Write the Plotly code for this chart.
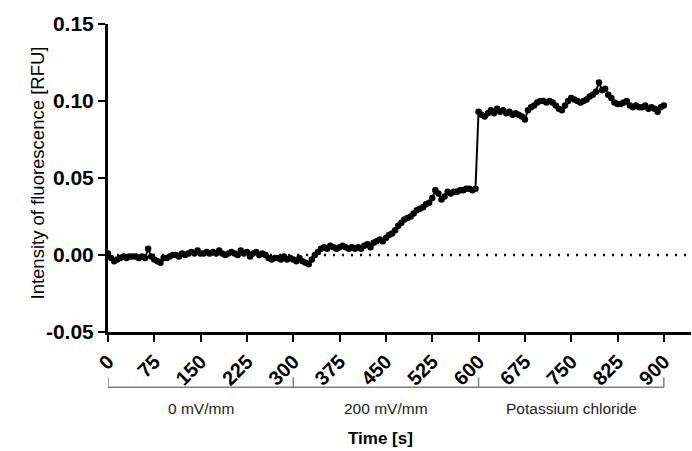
import plotly.graph_objects as go

time_s = list(range(0, 901, 5))
intensity = [
    0.001, -0.002, -0.004, -0.003, -0.002, -0.001, -0.002, -0.001, -0.001, -0.001,
    -0.002, -0.001, -0.002, 0.004, -0.001, -0.003, -0.004, -0.005, -0.002, -0.002,
    -0.001, 0.000, 0.000, -0.001, 0.001, 0.000, 0.001, 0.002, 0.001, 0.003,
    0.001, 0.001, 0.002, 0.001, 0.002, 0.001, 0.003, 0.001, 0.000, 0.001,
    0.002, 0.001, 0.000, 0.003, 0.001, 0.002, -0.001, 0.001, 0.002, 0.000,
    0.001, 0.000, -0.002, -0.003, -0.002, -0.002, -0.003, -0.001, -0.003, -0.002,
    -0.003, -0.004, -0.002, -0.004, -0.005, -0.006, -0.003, 0.000, 0.002, 0.004,
    0.005, 0.004, 0.006, 0.005, 0.004, 0.005, 0.006, 0.005, 0.004, 0.005,
    0.004, 0.005, 0.004, 0.006, 0.007, 0.005, 0.008, 0.009, 0.010, 0.009,
    0.011, 0.013, 0.014, 0.016, 0.019, 0.021, 0.023, 0.024, 0.025, 0.027,
    0.029, 0.030, 0.031, 0.033, 0.034, 0.037, 0.042, 0.040, 0.036, 0.038,
    0.041, 0.040, 0.041, 0.041, 0.042, 0.042, 0.043, 0.043, 0.042, 0.043,
    0.093, 0.091, 0.090, 0.092, 0.094, 0.092, 0.095, 0.093, 0.094, 0.092,
    0.093, 0.091, 0.092, 0.091, 0.090, 0.088, 0.094, 0.096, 0.097, 0.099,
    0.100, 0.100, 0.099, 0.100, 0.099, 0.097, 0.095, 0.094, 0.097, 0.100,
    0.102, 0.101, 0.100, 0.099, 0.100, 0.101, 0.103, 0.104, 0.106, 0.112,
    0.107, 0.108, 0.104, 0.102, 0.099, 0.098, 0.098, 0.099, 0.100, 0.097,
    0.096, 0.097, 0.096, 0.096, 0.097, 0.095, 0.096, 0.095, 0.093, 0.096,
    0.097,
]
x_ticks = list(range(0, 901, 75))
y_ticks = [-0.05, 0.00, 0.05, 0.10, 0.15]
phase_bounds = [0, 300, 600, 900]
phase_labels = ["0 mV/mm", "200 mV/mm", "Potassium chloride"]

FONT = "Liberation Sans, Arial, sans-serif"

fig = go.Figure()
fig.add_trace(go.Scatter(
    x=time_s, y=intensity, mode="lines+markers",
    line=dict(color="black", width=2),
    marker=dict(color="black", size=6.5),
    showlegend=False,
))

# dotted zero line
fig.add_shape(type="line", xref="x", yref="y", x0=0, x1=944, y0=0, y1=0,
              line=dict(color="black", width=2.5, dash="2px,7px"), layer="below")

# phase brackets
grey = "#7f7f7f"
fig.add_shape(type="line", xref="x", yref="paper", x0=phase_bounds[0], x1=phase_bounds[-1],
              y0=-0.179, y1=-0.179, line=dict(color=grey, width=1.5))
for b in phase_bounds:
    fig.add_shape(type="line", xref="x", yref="paper", x0=b, x1=b,
                  y0=-0.179, y1=-0.147, line=dict(color=grey, width=1.5))
for i, lab in enumerate(phase_labels):
    fig.add_annotation(x=(phase_bounds[i] + phase_bounds[i + 1]) / 2, y=-0.282,
                       xref="x", yref="paper", text=lab, showarrow=False,
                       font=dict(family=FONT, size=15.5, color="#222"))
fig.add_annotation(x=(phase_bounds[0] + phase_bounds[-1]) / 2 - 8, y=-0.383,
                   xref="x", yref="paper", text="<b>Time [s]</b>", showarrow=False,
                   font=dict(family=FONT, size=17, color="black"))

# y-axis title
fig.add_annotation(x=-0.143, y=0.515, xref="paper", yref="paper",
                   text="Intensity of fluorescence [RFU]", textangle=-90, showarrow=False,
                   font=dict(family=FONT, size=18.5, color="black"))

fig.update_layout(
    width=692, height=451,
    margin=dict(l=108, r=1, t=24, b=119),
    plot_bgcolor="white", paper_bgcolor="white",
    font=dict(family=FONT, color="black"),
    xaxis=dict(range=[0, 944], tickvals=x_ticks, ticktext=[f"<b>{v}</b>" for v in x_ticks],
               tickangle=-45, showline=True, linecolor="black", linewidth=3,
               ticks="outside", ticklen=7, tickwidth=2, tickcolor="black",
               showgrid=False, zeroline=False, tickfont=dict(size=20, family=FONT)),
    yaxis=dict(range=[-0.05, 0.15], tickvals=y_ticks,
               ticktext=[f"<b>{v:.2f}</b>" for v in y_ticks],
               showline=True, linecolor="black", linewidth=3,
               ticks="outside", ticklen=7, tickwidth=2, tickcolor="black",
               showgrid=False, zeroline=False, tickfont=dict(size=21, family=FONT)),
)

fig.write_html("out.html")
